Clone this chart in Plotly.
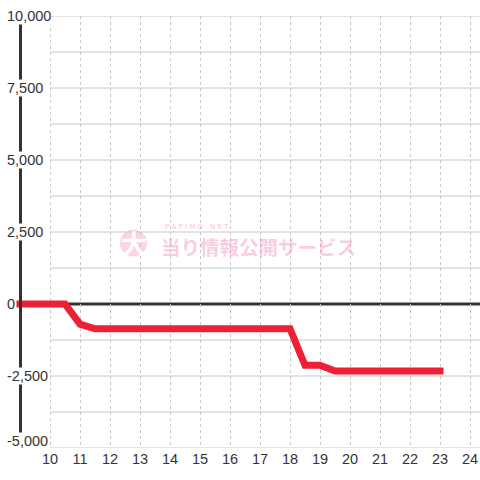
import plotly.graph_objects as go

# ---- data ----
hours = [9, 9.5, 10, 10.5, 11, 11.5, 12, 12.5, 13, 13.5, 14, 14.5, 15, 15.5,
         16, 16.5, 17, 17.5, 18, 18.5, 19, 19.5, 20, 20.5, 21, 21.5, 22, 22.5, 23]
values = [0, 0, 0, 0, -700, -860, -860, -860, -860, -860, -860, -860, -860, -860,
          -860, -860, -860, -860, -860, -2130, -2130, -2330, -2330, -2330, -2330,
          -2330, -2330, -2330, -2330]
x_ticks = list(range(10, 25))
y_label_vals = [10000, 7500, 5000, 2500, 0, -2500, -5000]
y_label_text = ["10,000", "7,500", "5,000", "2,500", "0", "-2,500", "-5,000"]
y_grid_vals = [10000, 8750, 7500, 6250, 5000, 3750, 2500, 1250, -1250, -2500, -3750, -5000]

W, H = 480, 480
MT, MB = 16, 32
X_RANGE = [9 - 20 / 30, 9 + 460 / 30]
Y_RANGE = [-5000, 10000]
PH = H - MT - MB


def px(xp):
    return xp / W


def py(yp):
    return (H - MB - yp) / PH


fig = go.Figure()
fig.add_trace(go.Scatter(x=hours, y=values, mode="lines",
                         line=dict(color="#ee2035", width=7),
                         hoverinfo="skip", showlegend=False))

shapes = []
for v in y_grid_vals:
    shapes.append(dict(type="line", xref="x", yref="y", x0=10, x1=X_RANGE[1], y0=v, y1=v,
                       line=dict(color="#c8c8c8", width=1), layer="below"))
shapes.append(dict(type="line", xref="x", yref="y", x0=9, x1=X_RANGE[1], y0=0, y1=0,
                   line=dict(color="#333333", width=3), layer="below"))
# watermark circle
shapes.append(dict(type="circle", xref="paper", yref="paper",
                   x0=px(120), x1=px(147), y0=py(256.5), y1=py(229.5),
                   fillcolor="rgba(248,170,205,0.5)", line=dict(width=0), layer="below"))

annotations = []
for v, t in zip(y_label_vals, y_label_text):
    annotations.append(dict(x=px(6), xref="paper", y=v, yref="y", text=t, showarrow=False,
                            xanchor="left", yanchor="middle", bgcolor="white", borderpad=0,
                            yshift=7 if v == Y_RANGE[0] else 0,
                            font=dict(family="Liberation Sans, Arial", size=14.5, color="#333333")))
annotations.append(dict(x=px(134), y=py(242), xref="paper", yref="paper", text="<b>大</b>",
                        showarrow=False, xanchor="center", yanchor="middle",
                        font=dict(family="Noto Sans CJK JP", size=26, color="white")))
annotations.append(dict(x=px(159), y=py(246), xref="paper", yref="paper",
                        text="<b>当り情報公開サービス</b>", showarrow=False,
                        xanchor="left", yanchor="middle",
                        font=dict(family="Noto Sans CJK JP", size=19.5, color="rgba(244,120,172,0.38)")))
annotations.append(dict(x=px(163), y=py(226.5), xref="paper", yref="paper",
                        text="P A P I M O - N E T", showarrow=False,
                        xanchor="left", yanchor="middle",
                        font=dict(family="DejaVu Sans", size=7, color="rgba(244,120,172,0.5)")))

fig.update_layout(
    width=W, height=H,
    margin=dict(l=0, r=0, t=MT, b=MB),
    paper_bgcolor="white", plot_bgcolor="white",
    shapes=shapes, annotations=annotations,
    xaxis=dict(range=X_RANGE, tickvals=x_ticks, ticktext=[str(t) for t in x_ticks],
               showgrid=True, gridcolor="#c8c8c8", gridwidth=1, griddash="dot",
               zeroline=False, showline=False, ticks="",
               tickfont=dict(family="Liberation Sans, Arial", size=14.5, color="#333333")),
    yaxis=dict(range=Y_RANGE, showgrid=False, zeroline=False, showticklabels=False,
               ticks="", anchor="free", position=px(20), showline=True,
               linecolor="#333333", linewidth=3),
)

post = ("document.body.style.margin='0';document.body.style.overflow='hidden';"
        "document.querySelectorAll('.scatterlayer .js-line').forEach(function(p){"
        "p.style.strokeLinecap='square';});")
fig.write_html("out.html", post_script=post, config={"displayModeBar": False})
